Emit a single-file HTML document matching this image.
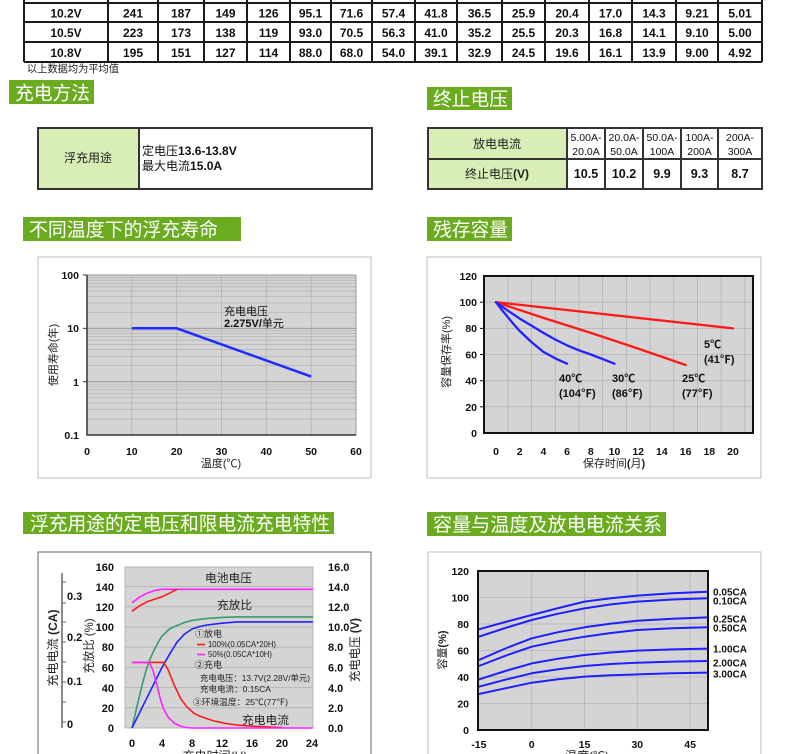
<!DOCTYPE html>
<html><head><meta charset="utf-8">
<style>
html,body{margin:0;padding:0;background:#fff;width:790px;height:754px;overflow:hidden;}
#wrap{position:relative;width:790px;height:754px;overflow:hidden;}
svg{display:block;}
text{font-family:"Liberation Sans","Noto Sans CJK SC",sans-serif;}
</style></head>
<body>
<div id="wrap">
<svg width="790" height="754" viewBox="0 0 790 754" xmlns="http://www.w3.org/2000/svg">
<rect width="790" height="754" fill="#fff"/>

<!-- ===== Top table ===== -->
<g stroke="#1a1a1a" stroke-width="2">
<line x1="24" y1="3" x2="762" y2="3"/>
<line x1="24" y1="22" x2="762" y2="22"/>
<line x1="24" y1="42" x2="762" y2="42"/>
<line x1="24" y1="62" x2="762" y2="62"/>
<line x1="24" y1="0" x2="24" y2="62"/><line x1="108" y1="0" x2="108" y2="62"/><line x1="158" y1="0" x2="158" y2="62"/><line x1="204" y1="0" x2="204" y2="62"/><line x1="247" y1="0" x2="247" y2="62"/><line x1="290" y1="0" x2="290" y2="62"/><line x1="331" y1="0" x2="331" y2="62"/><line x1="372" y1="0" x2="372" y2="62"/><line x1="415" y1="0" x2="415" y2="62"/><line x1="457" y1="0" x2="457" y2="62"/><line x1="502" y1="0" x2="502" y2="62"/><line x1="545" y1="0" x2="545" y2="62"/><line x1="589" y1="0" x2="589" y2="62"/><line x1="632" y1="0" x2="632" y2="62"/><line x1="676" y1="0" x2="676" y2="62"/><line x1="718" y1="0" x2="718" y2="62"/><line x1="762" y1="0" x2="762" y2="62"/>
</g>
<g font-size="12" text-anchor="middle" fill="#111" font-weight="bold">
<text x="66" y="17.5">10.2V</text><text x="133" y="17.5">241</text><text x="181" y="17.5">187</text><text x="225.5" y="17.5">149</text><text x="268.5" y="17.5">126</text><text x="310.5" y="17.5">95.1</text><text x="351.5" y="17.5">71.6</text><text x="393.5" y="17.5">57.4</text><text x="436" y="17.5">41.8</text><text x="479.5" y="17.5">36.5</text><text x="523.5" y="17.5">25.9</text><text x="567" y="17.5">20.4</text><text x="610.5" y="17.5">17.0</text><text x="654" y="17.5">14.3</text><text x="697" y="17.5">9.21</text><text x="740" y="17.5">5.01</text>
<text x="66" y="37">10.5V</text><text x="133" y="37">223</text><text x="181" y="37">173</text><text x="225.5" y="37">138</text><text x="268.5" y="37">119</text><text x="310.5" y="37">93.0</text><text x="351.5" y="37">70.5</text><text x="393.5" y="37">56.3</text><text x="436" y="37">41.0</text><text x="479.5" y="37">35.2</text><text x="523.5" y="37">25.5</text><text x="567" y="37">20.3</text><text x="610.5" y="37">16.8</text><text x="654" y="37">14.1</text><text x="697" y="37">9.10</text><text x="740" y="37">5.00</text>
<text x="66" y="57">10.8V</text><text x="133" y="57">195</text><text x="181" y="57">151</text><text x="225.5" y="57">127</text><text x="268.5" y="57">114</text><text x="310.5" y="57">88.0</text><text x="351.5" y="57">68.0</text><text x="393.5" y="57">54.0</text><text x="436" y="57">39.1</text><text x="479.5" y="57">32.9</text><text x="523.5" y="57">24.5</text><text x="567" y="57">19.6</text><text x="610.5" y="57">16.1</text><text x="654" y="57">13.9</text><text x="697" y="57">9.00</text><text x="740" y="57">4.92</text>
</g>
<text x="27" y="72" font-size="10.5" fill="#222" textLength="92" lengthAdjust="spacingAndGlyphs">以上数据均为平均值</text>

<!-- ===== Section headers ===== -->
<g fill="#6bab1f">
<rect x="9" y="80" width="85" height="24"/>
<rect x="427" y="87" width="85" height="23"/>
<rect x="23" y="217" width="218" height="24"/>
<rect x="427" y="217" width="85" height="24"/>
<rect x="23" y="512" width="311" height="22"/>
<rect x="427" y="512" width="239" height="24"/>
</g>
<g fill="#fff" font-size="19">
<text x="15" y="99.5" textLength="75" lengthAdjust="spacingAndGlyphs">充电方法</text>
<text x="433" y="105.5" textLength="75" lengthAdjust="spacingAndGlyphs">终止电压</text>
<text x="29" y="236" textLength="189" lengthAdjust="spacingAndGlyphs">不同温度下的浮充寿命</text>
<text x="433" y="236" textLength="75" lengthAdjust="spacingAndGlyphs">残存容量</text>
<text x="30" y="530" textLength="300" lengthAdjust="spacingAndGlyphs">浮充用途的定电压和限电流充电特性</text>
<text x="433" y="531" textLength="229" lengthAdjust="spacingAndGlyphs">容量与温度及放电电流关系</text>
</g>

<!-- ===== Float charge table ===== -->
<rect x="38" y="128" width="101" height="61" fill="#d9edb6"/>
<rect x="38" y="128" width="334" height="61" fill="none" stroke="#333" stroke-width="2"/>
<line x1="139" y1="128" x2="139" y2="189" stroke="#333" stroke-width="2"/>
<text x="88" y="162" font-size="12" text-anchor="middle" fill="#222">浮充用途</text>
<text x="142" y="155" font-size="12" fill="#111">定电压<tspan font-weight="bold">13.6-13.8V</tspan></text>
<text x="142" y="170" font-size="12" fill="#111">最大电流<tspan font-weight="bold">15.0A</tspan></text>

<!-- ===== End voltage table ===== -->
<rect x="428" y="128" width="139" height="61" fill="#d9edb6"/>
<rect x="428" y="128" width="334" height="61" fill="none" stroke="#333" stroke-width="2"/>
<g stroke="#333" stroke-width="2">
<line x1="428" y1="159" x2="762" y2="159"/>
<line x1="567" y1="128" x2="567" y2="189"/><line x1="605" y1="128" x2="605" y2="189"/><line x1="643" y1="128" x2="643" y2="189"/><line x1="681" y1="128" x2="681" y2="189"/><line x1="718" y1="128" x2="718" y2="189"/>
</g>
<text x="497" y="148" font-size="12" text-anchor="middle" fill="#222">放电电流</text>
<text x="497" y="178" font-size="12" text-anchor="middle" fill="#222">终止电压<tspan font-weight="bold">(V)</tspan></text>
<g font-size="10.5" text-anchor="middle" fill="#111">
<text x="586" y="141">5.00A-</text><text x="586" y="155">20.0A</text>
<text x="624" y="141">20.0A-</text><text x="624" y="155">50.0A</text>
<text x="662" y="141">50.0A-</text><text x="662" y="155">100A</text>
<text x="699.5" y="141">100A-</text><text x="699.5" y="155">200A</text>
<text x="740" y="141">200A-</text><text x="740" y="155">300A</text>
</g>
<g font-size="12.5" font-weight="bold" text-anchor="middle" fill="#111">
<text x="586" y="178">10.5</text><text x="624" y="178">10.2</text><text x="662" y="178">9.9</text><text x="699.5" y="178">9.3</text><text x="740" y="178">8.7</text>
</g>

<!-- ===== Chart 1: float life ===== -->
<rect x="38" y="257" width="333" height="221" fill="#fff" stroke="#bdbdbd" stroke-width="1"/>
<rect x="87" y="275" width="269" height="160" fill="#d4d4d4"/>
<g stroke="#b4b4b4" stroke-width="0.8">
<line x1="87" y1="418.95" x2="356" y2="418.95"/><line x1="87" y1="409.56" x2="356" y2="409.56"/><line x1="87" y1="402.89" x2="356" y2="402.89"/><line x1="87" y1="397.72" x2="356" y2="397.72"/><line x1="87" y1="393.5" x2="356" y2="393.5"/><line x1="87" y1="389.93" x2="356" y2="389.93"/><line x1="87" y1="386.84" x2="356" y2="386.84"/><line x1="87" y1="384.11" x2="356" y2="384.11"/>
<line x1="87" y1="365.62" x2="356" y2="365.62"/><line x1="87" y1="356.23" x2="356" y2="356.23"/><line x1="87" y1="349.56" x2="356" y2="349.56"/><line x1="87" y1="344.39" x2="356" y2="344.39"/><line x1="87" y1="340.17" x2="356" y2="340.17"/><line x1="87" y1="336.6" x2="356" y2="336.6"/><line x1="87" y1="333.51" x2="356" y2="333.51"/><line x1="87" y1="330.78" x2="356" y2="330.78"/>
<line x1="87" y1="312.28" x2="356" y2="312.28"/><line x1="87" y1="302.89" x2="356" y2="302.89"/><line x1="87" y1="296.22" x2="356" y2="296.22"/><line x1="87" y1="291.05" x2="356" y2="291.05"/><line x1="87" y1="286.83" x2="356" y2="286.83"/><line x1="87" y1="283.26" x2="356" y2="283.26"/><line x1="87" y1="280.17" x2="356" y2="280.17"/><line x1="87" y1="277.44" x2="356" y2="277.44"/>
<line x1="131.8" y1="275" x2="131.8" y2="435"/><line x1="176.7" y1="275" x2="176.7" y2="435"/><line x1="221.5" y1="275" x2="221.5" y2="435"/><line x1="266.3" y1="275" x2="266.3" y2="435"/><line x1="311.2" y1="275" x2="311.2" y2="435"/>
</g>
<g stroke="#9a9a9a" stroke-width="1">
<line x1="87" y1="381.67" x2="356" y2="381.67"/><line x1="87" y1="328.33" x2="356" y2="328.33"/>
<line x1="87" y1="275" x2="356" y2="275"/><line x1="356" y1="275" x2="356" y2="435"/>
</g>
<line x1="87" y1="275" x2="87" y2="435.5" stroke="#333" stroke-width="1.5"/>
<line x1="86.5" y1="435" x2="356" y2="435" stroke="#333" stroke-width="1.5"/>
<g stroke="#333" stroke-width="1"><line x1="83" y1="275" x2="87" y2="275"/><line x1="83" y1="328.33" x2="87" y2="328.33"/><line x1="83" y1="381.67" x2="87" y2="381.67"/></g>
<polyline points="131.8,328.3 176.7,328.3 311.2,376.6" fill="none" stroke="#1f2bff" stroke-width="2.5"/>
<g font-size="10.5" font-weight="bold" fill="#111" text-anchor="end">
<text x="79" y="279">100</text><text x="79" y="332">10</text><text x="79" y="386">1</text><text x="79" y="439">0.1</text>
</g>
<g font-size="10.5" font-weight="bold" fill="#111" text-anchor="middle">
<text x="87" y="455">0</text><text x="131.8" y="455">10</text><text x="176.7" y="455">20</text><text x="221.5" y="455">30</text><text x="266.3" y="455">40</text><text x="311.2" y="455">50</text><text x="356" y="455">60</text>
</g>
<text x="221" y="467" font-size="11" text-anchor="middle" fill="#222">温度(℃)</text>
<text transform="translate(57,355) rotate(-90)" font-size="11" text-anchor="middle" fill="#222">使用寿命(年)</text>
<text x="224" y="315" font-size="11" fill="#111">充电电压</text>
<text x="224" y="327" font-size="11" font-weight="bold" fill="#111">2.275V/<tspan font-weight="normal">单元</tspan></text>

<!-- ===== Chart 2: residual capacity ===== -->
<rect x="427" y="257" width="334" height="221" fill="#fff" stroke="#bdbdbd" stroke-width="1"/>
<rect x="484" y="276" width="269" height="157" fill="#d4d4d4"/>
<g stroke="#b4b4b4" stroke-width="0.8">
<line x1="507.85" y1="276" x2="507.85" y2="433"/><line x1="531.55" y1="276" x2="531.55" y2="433"/><line x1="555.25" y1="276" x2="555.25" y2="433"/><line x1="578.95" y1="276" x2="578.95" y2="433"/><line x1="602.65" y1="276" x2="602.65" y2="433"/><line x1="626.35" y1="276" x2="626.35" y2="433"/><line x1="650.05" y1="276" x2="650.05" y2="433"/><line x1="673.75" y1="276" x2="673.75" y2="433"/><line x1="697.45" y1="276" x2="697.45" y2="433"/><line x1="721.15" y1="276" x2="721.15" y2="433"/><line x1="744.85" y1="276" x2="744.85" y2="433"/>
<line x1="484" y1="406.8" x2="753" y2="406.8"/><line x1="484" y1="380.7" x2="753" y2="380.7"/><line x1="484" y1="354.5" x2="753" y2="354.5"/><line x1="484" y1="328.4" x2="753" y2="328.4"/><line x1="484" y1="302.2" x2="753" y2="302.2"/>
</g>
<rect x="484" y="276" width="269" height="157" fill="none" stroke="#111" stroke-width="2"/>
<g stroke="#111" stroke-width="1"><line x1="480" y1="302.2" x2="484" y2="302.2"/><line x1="480" y1="328.4" x2="484" y2="328.4"/><line x1="480" y1="354.5" x2="484" y2="354.5"/><line x1="480" y1="380.7" x2="484" y2="380.7"/><line x1="480" y1="406.8" x2="484" y2="406.8"/></g>
<g fill="none" stroke-width="2.3" stroke-linejoin="round" stroke-linecap="round">
<polyline stroke="#ff1a1a" points="496,302.2 733,328.4"/>
<polyline stroke="#ff1a1a" points="496,302.2 543.4,317.9 590.8,332.9 638.2,348.6 685.6,365"/>
<polyline stroke="#2222ff" points="496,302.2 507.85,310.7 519.7,318.6 531.55,325.7 543.4,332.9 555.25,339.5 567.1,345.4 578.95,350.3 590.8,354.5 602.65,359.1 614.5,363.7"/>
<polyline stroke="#2222ff" points="496,302.2 501.9,310 507.85,317.2 513.8,324.4 519.7,331 531.55,342.1 543.4,351.9 555.25,358.4 567.1,363.7"/>
</g>
<g font-size="10.5" font-weight="bold" fill="#111" text-anchor="end">
<text x="477" y="280">120</text><text x="477" y="306">100</text><text x="477" y="332">80</text><text x="477" y="358.5">60</text><text x="477" y="384.5">40</text><text x="477" y="411">20</text><text x="477" y="437">0</text>
</g>
<g font-size="10.5" font-weight="bold" fill="#111" text-anchor="middle">
<text x="496" y="455">0</text><text x="519.7" y="455">2</text><text x="543.4" y="455">4</text><text x="567.1" y="455">6</text><text x="590.8" y="455">8</text><text x="614.5" y="455">10</text><text x="638.2" y="455">12</text><text x="661.9" y="455">14</text><text x="685.6" y="455">16</text><text x="709.3" y="455">18</text><text x="733" y="455">20</text>
</g>
<text x="614" y="467" font-size="11" text-anchor="middle" fill="#222">保存时间<tspan font-weight="bold">(</tspan>月<tspan font-weight="bold">)</tspan></text>
<text transform="translate(450,352) rotate(-90)" font-size="11" text-anchor="middle" fill="#222">容量保存率(%)</text>
<g font-size="11" font-weight="bold" fill="#111">
<text x="559" y="382">40℃</text><text x="559" y="397">(104℉)</text>
<text x="612" y="382">30℃</text><text x="612" y="397">(86℉)</text>
<text x="682" y="382">25℃</text><text x="682" y="397">(77℉)</text>
<text x="704" y="348">5℃</text><text x="704" y="363">(41℉)</text>
</g>

<!-- ===== Chart 3: charge characteristics ===== -->
<path d="M38,754 L38,552 L371,552 L371,754" fill="#fff" stroke="#666" stroke-width="1"/>
<rect x="125" y="567" width="188" height="161" fill="#d4d4d4" stroke="#aaa" stroke-width="0.8"/>
<g stroke="#b0b0b0" stroke-width="0.8">
<line x1="125" y1="707.8" x2="313" y2="707.8"/><line x1="125" y1="687.6" x2="313" y2="687.6"/><line x1="125" y1="667.4" x2="313" y2="667.4"/><line x1="125" y1="647.2" x2="313" y2="647.2"/><line x1="125" y1="627" x2="313" y2="627"/><line x1="125" y1="606.8" x2="313" y2="606.8"/><line x1="125" y1="586.6" x2="313" y2="586.6"/>
</g>
<line x1="62" y1="573" x2="62" y2="728" stroke="#666" stroke-width="1.5"/>
<g stroke="#666" stroke-width="1"><line x1="62" y1="582" x2="66" y2="582"/><line x1="62" y1="603" x2="66" y2="603"/><line x1="62" y1="622" x2="66" y2="622"/><line x1="62" y1="642" x2="66" y2="642"/><line x1="62" y1="662" x2="66" y2="662"/><line x1="62" y1="682" x2="66" y2="682"/><line x1="62" y1="702" x2="66" y2="702"/><line x1="62" y1="722" x2="66" y2="722"/></g>
<g font-size="11" font-weight="bold" fill="#111">
<text x="67" y="600">0.3</text><text x="67" y="641">0.2</text><text x="67" y="685">0.1</text><text x="67" y="728">0</text>
</g>
<g font-size="11" font-weight="bold" fill="#111" text-anchor="end">
<text x="114" y="571">160</text><text x="114" y="591">140</text><text x="114" y="611">120</text><text x="114" y="631">100</text><text x="114" y="651">80</text><text x="114" y="671.5">60</text><text x="114" y="692">40</text><text x="114" y="712">20</text><text x="114" y="732">0</text>
</g>
<g font-size="11" font-weight="bold" fill="#111">
<text x="328" y="571">16.0</text><text x="328" y="591">14.0</text><text x="328" y="611">12.0</text><text x="328" y="631">10.0</text><text x="328" y="651">8.0</text><text x="328" y="671.5">6.0</text><text x="328" y="692">4.0</text><text x="328" y="712">2.0</text><text x="328" y="732">0.0</text>
</g>
<g font-size="11" font-weight="bold" fill="#111" text-anchor="middle">
<text x="132" y="747">0</text><text x="162" y="747">4</text><text x="192" y="747">8</text><text x="222" y="747">12</text><text x="252" y="747">16</text><text x="282" y="747">20</text><text x="312" y="747">24</text>
</g>
<text x="215" y="760" font-size="12" text-anchor="middle" fill="#222">充电时间(H)</text>
<text transform="translate(57,648) rotate(-90)" font-size="12" text-anchor="middle" fill="#222" textLength="77" lengthAdjust="spacingAndGlyphs">充电电流 <tspan font-weight="bold">(CA)</tspan></text>
<text transform="translate(93,646) rotate(-90)" font-size="12" text-anchor="middle" fill="#222" textLength="55" lengthAdjust="spacingAndGlyphs">充放比 (%)</text>
<text transform="translate(359,650) rotate(-90)" font-size="12" text-anchor="middle" fill="#222" textLength="64" lengthAdjust="spacingAndGlyphs">充电电压 <tspan font-weight="bold">(V)</tspan></text>
<g fill="none" stroke-width="1.6" stroke-linejoin="round">
<polyline stroke="#ff22ff" points="132,602.8 139.5,597.2 147,593.2 154.5,590.6 162,589.3 312.8,589.3"/>
<polyline stroke="#ff1a1a" points="132,611.3 139.5,605.8 147,601.8 154.5,599.2 162,596.7 169.5,593.2 177,589.3"/>
<polyline stroke="#3a9a6e" points="132,728 135.75,711.8 139.5,695.7 143.25,680.5 147,667.4 150.75,657.3 154.5,649.2 158.25,642.2 162,636.1 169.5,629 177,625.5 184.5,622.5 192,620.4 207,618.4 222,617.4 237,616.9 312.8,616.9"/>
<polyline stroke="#2222ff" points="132,728 147,697.7 162,667.4 169.5,654.3 177,642.2 184.5,634.1 192,629 199.5,626.5 207,625 222,623.2 237,621.9 312.8,621.9"/>
<polyline stroke="#ff1a1a" points="132,662.4 163.5,662.4 168,669.4 174,684.6 180.75,698.7 186.75,706.8 193.5,712.9 200.25,716.4 213.75,720.9 225.75,723.5 237,725 252,726.2 270,727 282,727.5"/>
<polyline stroke="#ff22ff" points="132,662.4 149.25,662.4 153,670.4 156.75,684.6 160.5,699.7 163.5,708.8 168,716.9 174,723 180,726 186,727.5 192,728 312.8,728"/>
</g>
<g fill="#222">
<text x="205" y="582" font-size="11.5" textLength="47" lengthAdjust="spacingAndGlyphs">电池电压</text>
<text x="217" y="609" font-size="11.5" textLength="35" lengthAdjust="spacingAndGlyphs">充放比</text>
<text x="242" y="724" font-size="11.5" textLength="47" lengthAdjust="spacingAndGlyphs">充电电流</text>
<text x="195" y="637" font-size="9">①放电</text>
<line x1="197" y1="644.5" x2="205" y2="644.5" stroke="#ff1a1a" stroke-width="1.6"/>
<text x="208" y="647" font-size="8" textLength="68" lengthAdjust="spacingAndGlyphs">100%(0.05CA*20H)</text>
<line x1="197" y1="654.5" x2="205" y2="654.5" stroke="#ff22ff" stroke-width="1.6"/>
<text x="208" y="657" font-size="8" textLength="64" lengthAdjust="spacingAndGlyphs">50%(0.05CA*10H)</text>
<text x="195" y="668" font-size="9">②充电</text>
<text x="200" y="681" font-size="8.5" textLength="110" lengthAdjust="spacingAndGlyphs">充电电压：13.7V(2.28V/单元)</text>
<text x="200" y="692" font-size="8.5" textLength="71" lengthAdjust="spacingAndGlyphs">充电电流：0.15CA</text>
<text x="193" y="705" font-size="8.5" textLength="95" lengthAdjust="spacingAndGlyphs">③环境温度：25℃(77℉)</text>
</g>

<!-- ===== Chart 4: capacity vs temperature ===== -->
<path d="M428,754 L428,552 L761,552 L761,754" fill="#fff" stroke="#bdbdbd" stroke-width="1"/>
<rect x="478" y="571" width="230" height="159" fill="#d4d4d4"/>
<g stroke="#b4b4b4" stroke-width="0.8">
<line x1="531.7" y1="571" x2="531.7" y2="730"/><line x1="584.5" y1="571" x2="584.5" y2="730"/><line x1="637.3" y1="571" x2="637.3" y2="730"/><line x1="690.1" y1="571" x2="690.1" y2="730"/>
<line x1="478" y1="703.5" x2="708" y2="703.5"/><line x1="478" y1="677" x2="708" y2="677"/><line x1="478" y1="650.5" x2="708" y2="650.5"/><line x1="478" y1="624" x2="708" y2="624"/><line x1="478" y1="597.5" x2="708" y2="597.5"/>
</g>
<rect x="478" y="571" width="230" height="159" fill="none" stroke="#111" stroke-width="2"/>
<g fill="none" stroke="#1f1fff" stroke-width="2" stroke-linejoin="round">
<polyline points="478.9,629.3 505.3,622 531.7,615 558.1,608.1 584.5,601.6 610.9,598.2 637.3,595.6 672.5,593.3 707.7,591.7"/>
<polyline points="478.9,636.7 505.3,628 531.7,620 558.1,613.7 584.5,608.4 610.9,604.4 637.3,601.6 672.5,599.5 707.7,598.3"/>
<polyline points="478.9,660 505.3,648.5 531.7,638.3 558.1,632.2 584.5,627.3 610.9,623.6 637.3,620.7 672.5,618.7 707.7,617.4"/>
<polyline points="478.9,666 505.3,655.8 531.7,646.7 558.1,641.2 584.5,636.7 610.9,633 637.3,630 672.5,628.2 707.7,627.3"/>
<polyline points="478.9,679.4 505.3,671 531.7,663.4 558.1,658.7 584.5,655 610.9,652.5 637.3,650.6 672.5,649.4 707.7,648.6"/>
<polyline points="478.9,686.7 505.3,679.7 531.7,673.3 558.1,669.3 584.5,666 610.9,664 637.3,662.7 672.5,661.6 707.7,661"/>
<polyline points="478.9,694 505.3,688.3 531.7,682.7 558.1,679.3 584.5,676.6 610.9,675.3 637.3,674.4 672.5,673.3 707.7,672.6"/>
</g>
<g font-size="10.5" font-weight="bold" fill="#111" text-anchor="end">
<text x="469" y="575">120</text><text x="469" y="601.5">100</text><text x="469" y="628">80</text><text x="469" y="654.5">60</text><text x="469" y="681">40</text><text x="469" y="707.5">20</text><text x="469" y="734">0</text>
</g>
<g font-size="10.5" font-weight="bold" fill="#111" text-anchor="middle">
<text x="478.9" y="748">-15</text><text x="531.7" y="748">0</text><text x="584.5" y="748">15</text><text x="637.3" y="748">30</text><text x="690.1" y="748">45</text>
</g>
<text x="587" y="760" font-size="12" text-anchor="middle" fill="#222">温度(℃)</text>
<text transform="translate(446,650) rotate(-90)" font-size="11" text-anchor="middle" fill="#222">容量<tspan font-weight="bold">(%)</tspan></text>
<g font-size="10" font-weight="bold" fill="#111">
<text x="713" y="595.5" textLength="34" lengthAdjust="spacingAndGlyphs">0.05CA</text>
<text x="713" y="604.5" textLength="34" lengthAdjust="spacingAndGlyphs">0.10CA</text>
<text x="713" y="622.5" textLength="34" lengthAdjust="spacingAndGlyphs">0.25CA</text>
<text x="713" y="631.5" textLength="34" lengthAdjust="spacingAndGlyphs">0.50CA</text>
<text x="713" y="652.5" textLength="34" lengthAdjust="spacingAndGlyphs">1.00CA</text>
<text x="713" y="666.5" textLength="34" lengthAdjust="spacingAndGlyphs">2.00CA</text>
<text x="713" y="677.5" textLength="34" lengthAdjust="spacingAndGlyphs">3.00CA</text>
</g>
</svg>
</div>
</body></html>
